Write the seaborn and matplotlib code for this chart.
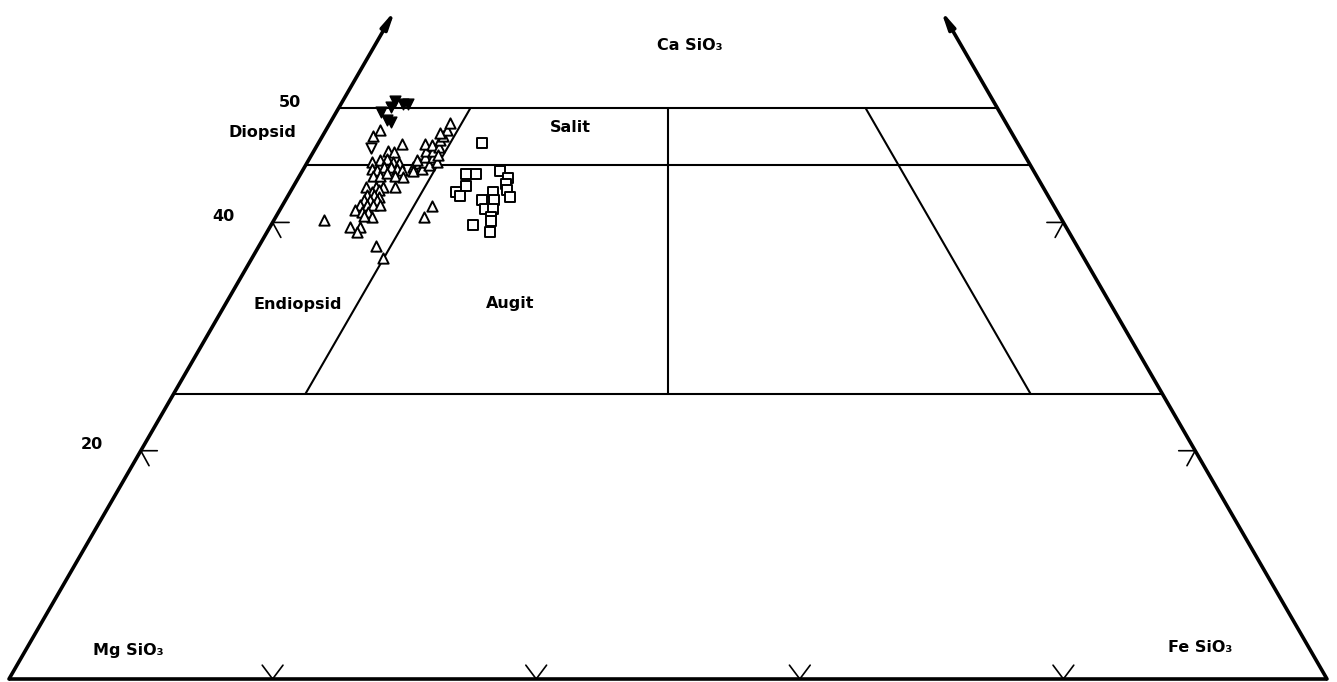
import numpy as np
import pandas as pd
import matplotlib
matplotlib.use("Agg")
import matplotlib.pyplot as plt
import seaborn as sns

# Pyroxene compositions in mol-% (Wo = CaSiO3, Fs = FeSiO3, En = remainder)
tri_wo = [47.6, 48.1, 46.9, 46.3, 46.2, 45.3, 45.5, 45.6, 45.3, 45.2,
          44.7, 44.6, 44.9, 44.9, 44.7, 44.6, 44.1, 44.1, 44.3, 44.1,
          44.0, 43.1, 43.1, 43.1, 43.1, 42.7, 42.8, 42.4, 42.4, 42.2,
          42.0, 42.0, 42.0, 41.5, 41.5, 41.5, 41.5, 41.1, 40.9, 40.9,
          40.5, 40.6, 40.2, 39.6, 39.6, 39.2, 37.9, 36.9, 40.5, 41.4,
          44.9, 45.2, 44.5, 44.7, 45.3, 45.0, 45.7, 45.7, 46.3, 46.3,
          46.9, 45.3, 46.8, 46.6, 47.2, 47.6, 48.1, 48.7, 47.8, 45.9, 45.5]
tri_fs = [3.8, 4.1, 6.4, 5.6, 6.1, 4.9, 5.4, 5.9, 6.5, 7.0,
          5.2, 5.6, 6.0, 6.5, 7.1, 7.5, 5.6, 6.1, 6.5, 7.2,
          7.9, 5.5, 6.3, 6.8, 7.7, 6.2, 6.7, 6.0, 6.5, 7.0,
          5.9, 6.4, 6.9, 5.9, 6.4, 6.9, 7.4, 5.7, 6.3, 6.8,
          7.3, 6.6, 3.8, 6.1, 6.8, 6.8, 8.9, 9.9, 11.2, 11.4,
          8.2, 8.5, 8.4, 9.0, 8.8, 9.4, 8.7, 9.3, 8.5, 9.0,
          8.1, 9.8, 8.7, 9.3, 9.1, 9.1, 9.2, 9.1, 8.8, 9.6, 8.2]

sq_wo = [47.0, 44.2, 44.2, 43.2, 42.7, 42.3, 44.5, 43.9, 43.4, 42.8,
         42.2, 42.7, 42.0, 42.0, 41.2, 41.2, 40.5, 40.1, 39.2, 39.8]
sq_fs = [12.4, 12.6, 13.3, 13.1, 12.6, 13.1, 15.0, 15.9, 16.0, 16.4,
         16.9, 15.4, 14.9, 15.8, 15.5, 16.1, 16.3, 16.5, 16.9, 15.3]

inv_wo = [49.7, 50.1, 50.6, 50.4, 50.4, 49.0, 48.8]
inv_fs = [3.4, 3.9, 4.0, 4.7, 5.1, 4.2, 4.6]

open_inv_wo = [46.5]
open_inv_fs = [4.2]

# Classification boundaries
wo_levels = [50, 45, 25]
fs_boundary = 10      # Diopsid / Salit, Endiopsid / Augit
en_boundary = 10      # right-hand boundary
wo_ticks = [20, 40]
fs_ticks = [20, 40, 60, 80]
wo_tick_labels = ["20", "40", "50"]

SQ3 = np.sqrt(3) / 2


def to_xy(wo, fs):
    wo = np.asarray(wo, float)
    fs = np.asarray(fs, float)
    return fs + wo / 2.0, wo * SQ3


def frame(name, wo, fs):
    x, y = to_xy(wo, fs)
    return pd.DataFrame({"x": x, "y": y, "group": name})


sns.set_style("white")
plt.rcParams["font.family"] = ["DejaVu Sans"]

fig = plt.figure(figsize=(13.37, 6.82), dpi=100)
ax = fig.add_axes([0, 0, 1, 1])
px = 13.18  # pixels per composition unit
ax.set_xlim(-9 / px, (1337 - 9) / px)
ax.set_ylim((679 - 682) / px, 679 / px)
ax.set_axis_off()

K = "black"

# Outer frame: base line and the two sides, sides ending in arrows
ax.plot([0, 100], [0, 0], color=K, lw=2.6, solid_capstyle="butt")
top_wo = 58.6
for right in (False, True):
    if right:
        x0, y0 = to_xy(0, 100)
        x1, y1 = to_xy(top_wo, 100 - top_wo)
    else:
        x0, y0 = to_xy(0, 0)
        x1, y1 = to_xy(top_wo, 0)
    ax.annotate("", xy=(x1, y1), xytext=(x0, y0),
                arrowprops=dict(arrowstyle="-|>,head_length=1.0,head_width=0.2",
                                color=K, lw=2.6, shrinkA=0, shrinkB=0))

# Horizontal Wo boundaries
for w in wo_levels:
    xa, ya = to_xy(w, 0)
    xb, yb = to_xy(w, 100 - w)
    ax.plot([xa, xb], [ya, yb], color=K, lw=1.5)

# Fs = 10, En = Fs, En = 10 boundaries between Wo 25 and 50
ws = np.array([25, 50])
for fs_line in (np.full(2, fs_boundary, float), (100 - ws) / 2.0, 100 - ws - en_boundary):
    x, y = to_xy(ws, fs_line)
    ax.plot(x, y, color=K, lw=1.5)

# Tick marks (open arrowheads)
arm = 1.25
for w in wo_ticks:
    x, y = to_xy(w, 0)
    ax.plot([x + arm, x, x + arm * 0.5], [y, y, y - arm * SQ3 * 1.05], color=K, lw=1.2)
    x, y = to_xy(w, 100 - w)
    ax.plot([x - arm, x, x - arm * 0.5], [y, y, y - arm * SQ3 * 1.05], color=K, lw=1.2)
for f in fs_ticks:
    x, y = to_xy(0, f)
    a = 1.05
    ax.plot([x - a * 0.75, x, x + a * 0.75], [a * 1.0, y, a * 1.0], color=K, lw=1.2)

# Tick labels on the left side
for lab, w in zip(wo_tick_labels, [20, 40, 50]):
    x, y = to_xy(w, 0)
    ax.text(x - 3.7, y + 0.45, lab, ha="center", va="center",
            fontsize=11.5, fontweight="bold", color=K)

# Data points
tri = frame("tri", tri_wo, tri_fs)
sq = frame("sq", sq_wo, sq_fs)
inv = frame("inv", inv_wo, inv_fs)
oinv = frame("oinv", open_inv_wo, open_inv_fs)

sns.scatterplot(data=tri, x="x", y="y", marker="^", s=55, facecolor="white",
                edgecolor=K, linewidth=1.4, ax=ax, legend=False, zorder=3)
sns.scatterplot(data=sq, x="x", y="y", marker="s", s=44, facecolor="white",
                edgecolor=K, linewidth=1.4, ax=ax, legend=False, zorder=3)
sns.scatterplot(data=oinv, x="x", y="y", marker="v", s=55, facecolor="white",
                edgecolor=K, linewidth=1.4, ax=ax, legend=False, zorder=3)
sns.scatterplot(data=inv, x="x", y="y", marker="v", s=60, color=K,
                edgecolor=K, linewidth=1.0, ax=ax, legend=False, zorder=4)

# Field and end-member names
labels = [
    ("Ca SiO\u2083", 690, 45),
    ("Diopsid", 262, 133),
    ("Salit", 570, 128),
    ("Endiopsid", 298, 304),
    ("Augit", 510, 303),
    ("Mg SiO\u2083", 128, 650),
    ("Fe SiO\u2083", 1200, 648),
]
for text, lx, ly in labels:
    ax.text(lx / 1337, 1 - ly / 682, text, transform=ax.transAxes,
            ha="center", va="center", fontsize=11.5, fontweight="bold", color=K)

fig.savefig("out.png", dpi=100, facecolor="white")
